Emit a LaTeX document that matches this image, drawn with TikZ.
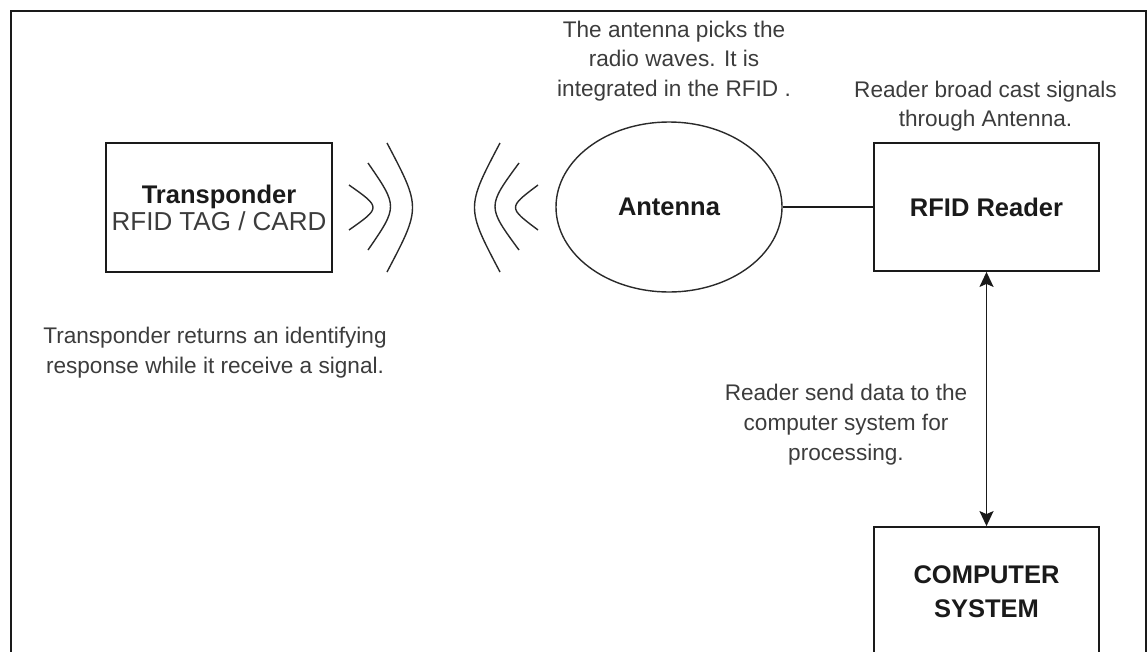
\documentclass[tikz,border=0pt]{standalone}
\usepackage{fontspec}
\setmainfont{Liberation Sans}
\usetikzlibrary{arrows.meta,shapes.geometric}
\definecolor{inkc}{HTML}{1A1A1A}
\definecolor{notec}{HTML}{3C3C3C}
\definecolor{linec}{HTML}{2A2A2A}
\begin{document}
\begin{tikzpicture}[x=1pt,y=-1pt,
  box/.style={draw=inkc, line width=1.8pt, minimum width=226pt, minimum height=129pt,
    inner sep=0pt, align=center, text=inkc, font=\fontsize{25.5}{27}\selectfont\bfseries},
  note/.style={anchor=north, inner sep=0pt, align=center, text=notec,
    font=\fontsize{22.6}{29.6}\selectfont},
  wave/.style={draw=linec, line width=1.4pt},
  link/.style={draw=inkc, line width=1.6pt},
  >={Stealth[length=15pt, width=14pt, inset=3pt]}]
\useasboundingbox (0,0) rectangle (1148,651);
\clip (0,0) rectangle (1148,651);

% outer frame (runs past the lower edge)
\draw[line width=2.2pt, draw=inkc] (11,720) -- (11,11) -- (1146,11) -- (1146,720);

% main blocks
\node[box] (tag) at (219,207.5)
  {Transponder\\{\mdseries\color{notec}\fontsize{26}{27}\selectfont RFID TAG / CARD}};
\node[draw=linec, ellipse, line width=1.4pt, minimum width=226pt, minimum height=170pt,
  inner sep=0pt, text=inkc, font=\fontsize{25.5}{27}\selectfont\bfseries] (ant) at (669,207) {Antenna};
\node[box, minimum width=225pt, minimum height=128pt] (reader) at (986.5,207) {RFID Reader};
\node[box, minimum width=225pt, font=\fontsize{25.5}{34}\selectfont\bfseries] (comp) at (986.5,591.5)
  {COMPUTER\\SYSTEM};

% radio waves leaving the tag
\draw[wave] (349,185) .. controls (381,207.5) .. (349,230);
\draw[wave] (368,163) .. controls (398,206.5) .. (368,250);
\draw[wave] (387,143) .. controls (421,207.5) .. (387,272);
% radio waves arriving at the antenna
\draw[wave] (500,143) .. controls (466,207.5) .. (500,272);
\draw[wave] (519,163) .. controls (487,206.5) .. (519,250);
\draw[wave] (538,185) .. controls (508,207.5) .. (538,230);

% connectors
\draw[link] (ant.east) -- (reader.west);
\draw[link, <->] (reader.south) -- (comp.north);

% annotations
\node[note] (antnote) at (674,20.5) {The antenna picks the\\radio waves. It is\\integrated in the RFID .};
\node[note] (readnote) at (985.5,80.5) {Reader broad cast signals\\through Antenna.};
\node[note, font=\fontsize{22.6}{30}\selectfont] (tagnote) at (215,326.5)
  {Transponder returns an identifying\\response while it receive a signal.};
\node[note, font=\fontsize{22.6}{30}\selectfont] (compnote) at (846,383.5)
  {Reader send data to the\\computer system for\\processing.};
\end{tikzpicture}
\end{document}
